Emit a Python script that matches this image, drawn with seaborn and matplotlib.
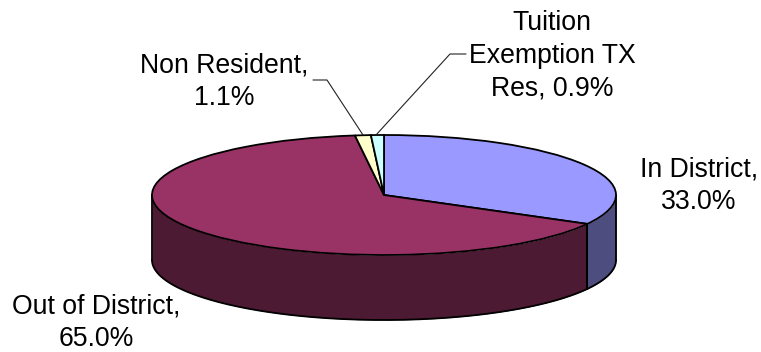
import numpy as np
import matplotlib
matplotlib.use("Agg")
import matplotlib.pyplot as plt
import seaborn as sns

categories = ["In District", "Out of District", "Non Resident", "Tuition Exemption TX Res"]
shares = [33.0, 65.0, 1.1, 0.9]
top_colors = ["#9999FF", "#993366", "#FFFFCC", "#CCFFFF"]
side_colors = ["#4D4D80", "#4D1A33", "#80805A", "#5A8080"]

W, H = 761, 352
CX, CY, RX, RY, DEPTH = 384, 195, 232, 60, 65

sns.set_theme(style="white")
plt.rcParams["font.family"] = ["Liberation Sans", "DejaVu Sans"]

fig = plt.figure(figsize=(W / 100, H / 100), dpi=100, facecolor="white")
ax = fig.add_axes([0, 0, 1, 1])

# Rim of the disc: only the part of each slice facing downward is visible.
edges = 90 - np.cumsum([0] + shares) * 3.6
drop = DEPTH / RY
for i, color in enumerate(side_colors):
    hi, lo = edges[i], edges[i + 1]
    # Clip the slice to the front half (180..360 degrees, i.e. -180..0).
    a, b = max(lo, -180), min(hi, 0)
    if a >= b:
        continue
    t = np.radians(np.linspace(a, b, 200))
    x, y = np.cos(t), np.sin(t)
    ax.fill_between(x, y, y - drop, color=color, lw=0, zorder=1)
    ax.plot(x, y - drop, color="black", lw=1.3, zorder=2, solid_capstyle="round")
    for tt in (a, b):
        rad = np.radians(tt)
        ax.plot([np.cos(rad)] * 2, [np.sin(rad), np.sin(rad) - drop],
                color="black", lw=1.3, zorder=2)

# Top face of the disc.
wedges, _ = ax.pie(shares, colors=top_colors, startangle=90, counterclock=False,
                   radius=1, wedgeprops=dict(edgecolor="black", linewidth=1.3))
for w in wedges:
    w.set_zorder(3)

# Flatten the unit circle into the perspective ellipse.
ax.set_aspect("auto")
ax.set_xlim(-CX / RX, (W - CX) / RX)
ax.set_ylim((CY - H) / RY, CY / RY)
ax.set_axis_off()


def px(x, y):
    return x / W, 1 - y / H


label_style = dict(ha="center", va="center", fontsize=19.2, color="black",
                   linespacing=1.34, transform=fig.transFigure)
fig.text(*px(699, 186), f"{categories[0]},\n{shares[0]:.1f}%", **label_style)
fig.text(*px(96, 323), f"{categories[1]},\n{shares[1]:.1f}%", **label_style)
fig.text(*px(224, 82), f"{categories[2]},\n{shares[2]:.1f}%", **label_style)
fig.text(*px(552, 56), f"Tuition\nExemption TX\nRes, {shares[3]:.1f}%", **label_style)

# Leader lines from the two thin slices out to their labels.
for xs, ys in [((313, 327, 363), (80, 80, 135)), ((376, 450, 466), (135, 54, 54))]:
    pts = [px(a, b) for a, b in zip(xs, ys)]
    fig.add_artist(plt.Line2D([p[0] for p in pts], [p[1] for p in pts],
                              color="#222222", lw=0.8, transform=fig.transFigure))

fig.savefig("out.png", dpi=100)
